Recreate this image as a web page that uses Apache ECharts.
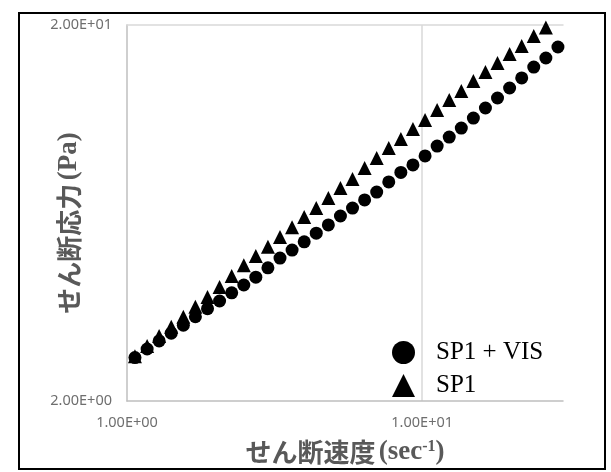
<!DOCTYPE html>
<html>
<head>
<meta charset="utf-8">
<script src="https://cdn.jsdelivr.net/npm/echarts@6/dist/echarts.min.js"></script>
<style>
  html, body { margin: 0; padding: 0; background: #fff; }
  #chart { width: 611px; height: 472px; }
</style>
</head>
<body>
<div id="chart"></div>
<script>
// Shear rate (sec^-1), shared by both measurement series
const shearRate = [
  1.064, 1.170, 1.285, 1.412, 1.552, 1.705, 1.874, 2.059, 2.263, 2.487,
  2.732, 3.002, 3.299, 3.625, 3.984, 4.377, 4.810, 5.286, 5.808, 6.383,
  7.013, 7.706, 8.468, 9.305, 10.23, 11.24, 12.35, 13.57, 14.91, 16.38,
  18.00, 19.78, 21.74, 23.88, 26.25, 28.84
];

// Shear stress (Pa), SP1 + VIS
const stressSP1VIS = [
  2.61, 2.75, 2.89, 3.03, 3.18, 3.35, 3.52, 3.69, 3.88, 4.07,
  4.27, 4.52, 4.80, 5.04, 5.30, 5.59, 5.88, 6.21, 6.52, 6.85,
  7.19, 7.65, 8.11, 8.49, 8.97, 9.53, 10.07, 10.64, 11.31, 12.03,
  12.79, 13.60, 14.46, 15.46, 16.34, 17.48
];

// Shear stress (Pa), SP1 (last point lies above the 20 Pa range)
const stressSP1 = [
  2.63, 2.80, 2.98, 3.15, 3.35, 3.56, 3.78, 4.02, 4.30, 4.59,
  4.86, 5.14, 5.46, 5.80, 6.17, 6.52, 6.93, 7.37, 7.79, 8.33,
  8.86, 9.42, 9.95, 10.58, 11.18, 11.88, 12.64, 13.35, 14.19, 15.00,
  15.85, 16.75, 17.59, 18.70, 19.70
];

const seriesNames = ['SP1 + VIS', 'SP1'];
const xTickValues = [1, 10];
const yTickValues = [2, 20];

function sci(v) {
  const parts = Number(v).toExponential(2).split('e');
  const exp = parts[1];
  const sign = exp[0] === '-' ? '-' : '+';
  const digits = exp.replace(/^[+-]/, '').padStart(2, '0');
  return parts[0] + 'E' + sign + digits;
}
function isTick(v, list) {
  return list.some(t => Math.abs(v - t) / t < 1e-6);
}
function pairs(xs, ys) {
  return ys.map((y, i) => [xs[i], y]);
}

const gray = '#595959';
const cjk = '"Noto Sans CJK JP", sans-serif';
const serif = '"Liberation Serif", "Times New Roman", serif';
const tickFont = '"Noto Sans", sans-serif';
const titleRich = {
  c: { fontFamily: cjk, fontWeight: 'bold', fontSize: 26, color: gray },
  r: { fontFamily: serif, fontWeight: 'bold', fontSize: 27, color: gray },
  s: { fontFamily: serif, fontWeight: 'bold', fontSize: 16, color: gray, verticalAlign: 'top', padding: [0, 0, 9, 0] },
  g: { width: 20 }
};

const chart = echarts.init(document.getElementById('chart'), null, { renderer: 'canvas' });

chart.setOption({
  animation: false,
  backgroundColor: '#fff',
  graphic: [{
    type: 'rect',
    shape: { x: 19, y: 13, width: 586, height: 456 },
    style: { fill: 'none', stroke: '#000', lineWidth: 2 },
    silent: true,
    z: 100
  }],
  grid: { left: 127, top: 25, right: 48, bottom: 71, containLabel: false },
  legend: {
    data: seriesNames,
    orient: 'vertical',
    left: 387,
    top: 335,
    itemWidth: 23,
    itemHeight: 23,
    itemGap: 8,
    selectedMode: false,
    textStyle: { fontFamily: serif, fontSize: 25, color: '#000', padding: [0, 0, 0, 16] }
  },
  xAxis: [{
    type: 'log',
    logBase: 10,
    min: 1,
    max: 30,
    position: 'bottom',
    name: '{c|せん断速度} {r|(sec}{s|-1}{r|)}',
    nameLocation: 'middle',
    nameGap: 38,
    nameMoveOverlap: false,
    nameTextStyle: { rich: titleRich },
    axisLine: { show: true, lineStyle: { color: '#bfbfbf', width: 1.5 } },
    axisTick: { show: false },
    axisLabel: {
      margin: 14,
      fontFamily: tickFont,
      fontSize: 14.5,
      color: '#6e6e6e',
      showMaxLabel: false,
      formatter: v => isTick(v, xTickValues) ? sci(v) : ''
    },
    splitLine: {
      show: true,
      showMinLine: false,
      showMaxLine: false,
      lineStyle: { color: '#d9d9d9', width: 1.5 }
    }
  }, {
    // upper edge line of the plot at 20 Pa
    type: 'log',
    logBase: 10,
    min: 1,
    max: 30,
    position: 'top',
    axisLine: { show: true, lineStyle: { color: '#d9d9d9', width: 1.5 } },
    axisTick: { show: false },
    axisLabel: { show: false },
    splitLine: { show: false }
  }],
  yAxis: {
    type: 'log',
    logBase: 10,
    min: 2,
    max: 20,
    name: '{c|せん断応力} {r|(Pa)}{g|}',
    nameLocation: 'middle',
    nameGap: 44,
    nameMoveOverlap: false,
    nameTextStyle: { rich: titleRich },
    axisLine: { show: true, lineStyle: { color: '#bfbfbf', width: 1.5 } },
    axisTick: { show: false },
    axisLabel: {
      margin: 15,
      fontFamily: tickFont,
      fontSize: 14.5,
      color: '#6e6e6e',
      formatter: v => isTick(v, yTickValues) ? sci(v) : ''
    },
    splitLine: { show: false }
  },
  series: [{
    name: seriesNames[1],
    type: 'scatter',
    xAxisIndex: 0,
    symbol: 'triangle',
    symbolSize: 14,
    itemStyle: { color: '#000', opacity: 1 },
    data: pairs(shearRate, stressSP1),
    z: 2
  }, {
    name: seriesNames[0],
    type: 'scatter',
    xAxisIndex: 0,
    symbol: 'circle',
    symbolSize: 13,
    itemStyle: { color: '#000', opacity: 1 },
    data: pairs(shearRate, stressSP1VIS),
    z: 3
  }]
});
</script>
</body>
</html>
